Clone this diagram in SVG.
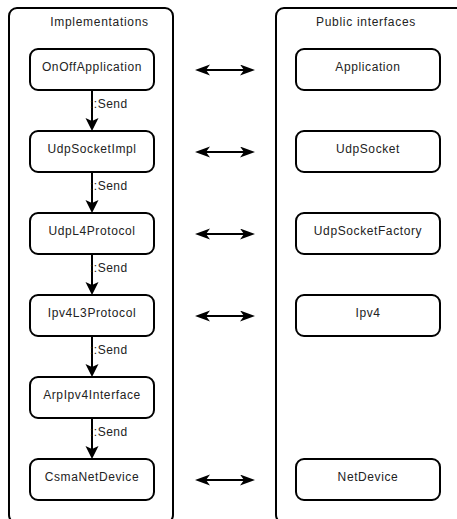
<svg xmlns="http://www.w3.org/2000/svg" width="457" height="519" viewBox="0 0 457 519">
  <defs>
    <style>
      .frame { fill: #ffffff; stroke: #000000; stroke-width: 2; }
      .box { fill: #ffffff; stroke: #000000; stroke-width: 2; }
      .title, .label, .send { font-family: "Liberation Sans", Arial, sans-serif; fill: #222222; }
      .title { font-size: 12px; letter-spacing: 0.7px; text-anchor: middle; }
      .label { font-size: 12px; letter-spacing: 0.6px; text-anchor: middle; }
      .send { font-size: 12px; letter-spacing: 0.5px; }
      .flow { fill: none; stroke: #000000; stroke-width: 2; }
    </style>
    <marker id="down" markerUnits="userSpaceOnUse" markerWidth="14" markerHeight="14" viewBox="0 0 14 14" refX="3" refY="6.5" orient="auto">
      <path d="M0,0 L13,6.5 L0,13 L3,6.5 z" fill="#000000"/>
    </marker>
    <marker id="both" markerUnits="userSpaceOnUse" markerWidth="16" markerHeight="12" viewBox="0 0 16 12" refX="4" refY="5.5" orient="auto-start-reverse">
      <path d="M0,0 L15,5.5 L0,11 L4,5.5 z" fill="#000000"/>
    </marker>
  </defs>

  <!-- containers -->
  <g id="implementations">
    <rect class="frame" x="9" y="8" width="164" height="515" rx="8"/>
    <text class="title" x="99.5" y="26">Implementations</text>
  </g>
  <g id="public-interfaces">
    <rect class="frame" x="276" y="8" width="188" height="515" rx="8"/>
    <text class="title" x="366" y="26">Public interfaces</text>
  </g>

  <!-- implementation nodes -->
  <g id="OnOffApplication">
    <rect class="box" x="30" y="49" width="124" height="41" rx="8"/>
    <text class="label" x="92" y="70.5">OnOffApplication</text>
  </g>
  <g id="UdpSocketImpl">
    <rect class="box" x="30" y="131" width="124" height="41" rx="8"/>
    <text class="label" x="92" y="152.5">UdpSocketImpl</text>
  </g>
  <g id="UdpL4Protocol">
    <rect class="box" x="30" y="213" width="124" height="41" rx="8"/>
    <text class="label" x="92" y="234.5">UdpL4Protocol</text>
  </g>
  <g id="Ipv4L3Protocol">
    <rect class="box" x="30" y="295" width="124" height="41" rx="8"/>
    <text class="label" x="92" y="316.5">Ipv4L3Protocol</text>
  </g>
  <g id="ArpIpv4Interface">
    <rect class="box" x="30" y="377" width="124" height="41" rx="8"/>
    <text class="label" x="92" y="398.5">ArpIpv4Interface</text>
  </g>
  <g id="CsmaNetDevice">
    <rect class="box" x="30" y="459" width="124" height="41" rx="8"/>
    <text class="label" x="92" y="480.5">CsmaNetDevice</text>
  </g>

  <!-- interface nodes -->
  <g id="Application">
    <rect class="box" x="296" y="49" width="144" height="41" rx="8"/>
    <text class="label" x="368" y="70.5">Application</text>
  </g>
  <g id="UdpSocket">
    <rect class="box" x="296" y="131" width="144" height="41" rx="8"/>
    <text class="label" x="368" y="152.5">UdpSocket</text>
  </g>
  <g id="UdpSocketFactory">
    <rect class="box" x="296" y="213" width="144" height="41" rx="8"/>
    <text class="label" x="368" y="234.5">UdpSocketFactory</text>
  </g>
  <g id="Ipv4">
    <rect class="box" x="296" y="295" width="144" height="41" rx="8"/>
    <text class="label" x="368" y="316.5">Ipv4</text>
  </g>
  <g id="NetDevice">
    <rect class="box" x="296" y="459" width="144" height="41" rx="8"/>
    <text class="label" x="368" y="480.5">NetDevice</text>
  </g>

  <!-- connectors -->
  <g id="connectors">
    <path class="flow" d="M92,90 V121" marker-end="url(#down)"/>
    <path class="flow" d="M92,172 V203" marker-end="url(#down)"/>
    <path class="flow" d="M92,254 V285" marker-end="url(#down)"/>
    <path class="flow" d="M92,336 V367" marker-end="url(#down)"/>
    <path class="flow" d="M92,418 V449" marker-end="url(#down)"/>
    <text class="send" x="90" y="108">::Send</text>
    <text class="send" x="90" y="190">::Send</text>
    <text class="send" x="90" y="272">::Send</text>
    <text class="send" x="90" y="354">::Send</text>
    <text class="send" x="90" y="436">::Send</text>

    <path class="flow" d="M206,70 H244" marker-start="url(#both)" marker-end="url(#both)"/>
    <path class="flow" d="M206,152 H244" marker-start="url(#both)" marker-end="url(#both)"/>
    <path class="flow" d="M206,234 H244" marker-start="url(#both)" marker-end="url(#both)"/>
    <path class="flow" d="M206,316 H244" marker-start="url(#both)" marker-end="url(#both)"/>
    <path class="flow" d="M206,480 H244" marker-start="url(#both)" marker-end="url(#both)"/>
  </g>
</svg>
